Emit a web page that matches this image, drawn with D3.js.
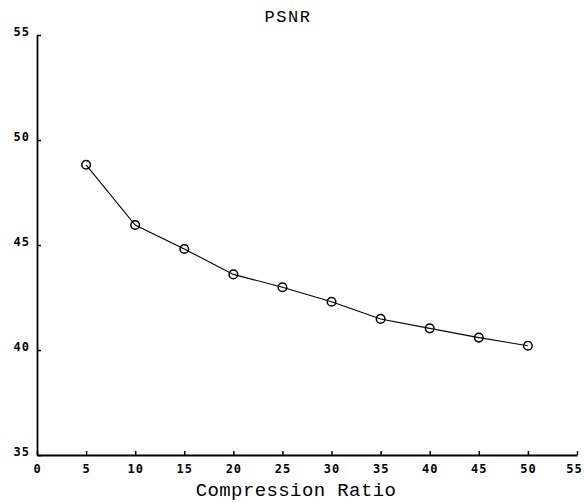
<!DOCTYPE html>
<html>
<head>
<meta charset="utf-8">
<script src="https://cdn.jsdelivr.net/npm/d3@7"></script>
<style>
  html, body { margin: 0; padding: 0; background: #fff; }
  svg { display: block; }
</style>
</head>
<body>
<svg id="chart" width="584" height="502"></svg>
<script>
// Compression ratio vs. PSNR (dB)
const ratios = [5, 10, 15, 20, 25, 30, 35, 40, 45, 50];
const psnr = [48.82, 45.95, 44.81, 43.60, 42.99, 42.30, 41.48, 41.03, 40.59, 40.20];
const xTicks = [0, 5, 10, 15, 20, 25, 30, 35, 40, 45, 50, 55];
const yTicks = [35, 40, 45, 50, 55];
const titleText = "PSNR";
const xLabelText = "Compression Ratio";

const svg = d3.select("#chart");
const plotLeft = 37, plotRight = 577, plotTop = 35, plotBottom = 455;

const x = d3.scaleLinear().domain([0, 55]).range([plotLeft, plotRight]);
const y = d3.scaleLinear().domain([35, 55]).range([plotBottom, plotTop]);

const tickFont = "'DejaVu Sans Mono', monospace";
const textFont = "'Liberation Mono', 'DejaVu Sans Mono', monospace";

// x axis: ticks point inward (upward)
const xAxis = svg.append("g")
  .attr("transform", `translate(0,${plotBottom})`)
  .call(d3.axisBottom(x).tickValues(xTicks).tickSize(-4).tickPadding(9).tickSizeOuter(0));

// y axis: ticks point inward (rightward)
const yAxis = svg.append("g")
  .attr("transform", `translate(${plotLeft},0)`)
  .call(d3.axisLeft(y).tickValues(yTicks).tickSize(-4).tickPadding(7).tickSizeOuter(0));

[xAxis, yAxis].forEach(g => {
  g.select(".domain").attr("stroke", "#000").attr("stroke-width", 1.8);
  g.selectAll(".tick line").attr("stroke", "#000").attr("stroke-width", 1.5);
  g.selectAll(".tick text")
    .attr("fill", "#000")
    .style("font-family", tickFont)
    .style("font-size", "12px")
    .style("font-weight", "bold")
    .style("letter-spacing", "1px");
});
yAxis.selectAll(".tick text").attr("dy", "0.05em");
// keep the last x label inside the canvas
xAxis.selectAll(".tick text").filter(d => d === 55).attr("dx", "-3");

// connecting line
svg.append("path")
  .datum(ratios.map((r, i) => [r, psnr[i]]))
  .attr("fill", "none")
  .attr("stroke", "#000")
  .attr("stroke-width", 1.1)
  .attr("d", d3.line().x(d => x(d[0])).y(d => y(d[1])));

// circle markers
svg.append("g")
  .selectAll("circle")
  .data(ratios.map((r, i) => [r, psnr[i]]))
  .join("circle")
  .attr("cx", d => x(d[0]))
  .attr("cy", d => y(d[1]))
  .attr("r", 4.3)
  .attr("fill", "none")
  .attr("stroke", "#000")
  .attr("stroke-width", 1.5);

// title
svg.append("text")
  .attr("x", 288)
  .attr("y", 22)
  .attr("text-anchor", "middle")
  .style("font-family", textFont)
  .style("font-size", "17px")
  .style("letter-spacing", "1.5px")
  .attr("fill", "#000")
  .text(titleText);

// x-axis label
svg.append("text")
  .attr("x", 296)
  .attr("y", 496)
  .attr("text-anchor", "middle")
  .style("font-family", textFont)
  .style("font-size", "19px")
  .style("letter-spacing", "0.4px")
  .attr("fill", "#000")
  .text(xLabelText);
</script>
</body>
</html>
